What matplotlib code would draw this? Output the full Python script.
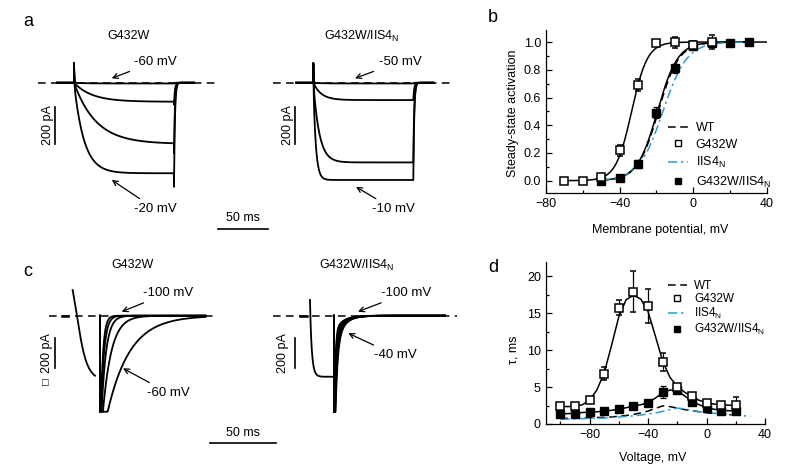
import numpy as np
import matplotlib
matplotlib.use('Agg')
import matplotlib.pyplot as plt
from matplotlib.lines import Line2D
from matplotlib.ticker import MultipleLocator

plt.rcParams['font.family'] = ['Liberation Sans', 'DejaVu Sans']
plt.rcParams['mathtext.fontset'] = 'custom'
plt.rcParams['mathtext.rm'] = 'Liberation Sans'
plt.rcParams['axes.linewidth'] = 0.9

SUB = 'IIS4$_\\mathregular{N}$'
LBL_WT, LBL_G, LBL_I, LBL_GI = 'WT', 'G432W', SUB, 'G432W/' + SUB

# ---------------- panel a: activation current traces ----------------
a_left_amp = [-4, -102, -328, -485]       # pA, steady-state current
a_left_tau = [10, 18, 22, 10]             # ms
a_right_amp = [-4, -93, -427, -521]
a_right_tau = [8, 8, 6, 2.5]
a_cap_spike = 105                          # pA, capacitive transient
a_tail_scale = [1.15, 1.0]
a_tail_tau = 0.9

# ---------------- panel c: tail current traces ----------------
c_left_pre = dict(start=-20.7, dur=16.9, amp=-430, tau=4.5, power=3, spike=171, spike_tau=3.0)
c_right_pre = dict(start=-18.2, dur=17.4, amp=-407, tau=1.5, power=1, spike=105, spike_tau=0.8)
c_left_tail_tau = [1.8, 2.4, 3.5, 6.5, 17.0]
c_left_tail_slow = [0, 0, 0, 0, 0]
c_right_tail_tau = [0.8, 0.9, 1.0, 1.1, 1.2, 1.4, 1.6]
c_right_tail_slow = [110, 130, 150, 170, 190, 210, 230]
c_tail_amp = 900
c_tail_slow_tau = 6.0
c_clip = -640

# ---------------- panel b: steady-state activation ----------------
vb_open = [-70, -60, -50, -40, -30, -20, -10, 0, 10]
act_open = [0.0, 0.0, 0.03, 0.22, 0.69, 0.99, 1.0, 0.98, 1.0]
err_open = [0.01, 0.01, 0.02, 0.04, 0.04, 0.01, 0.04, 0.03, 0.05]
vb_fill = [-50, -40, -30, -20, -10, 0, 10, 20, 30]
act_fill = [0.0, 0.02, 0.12, 0.49, 0.81, 0.97, 0.99, 0.99, 1.0]
err_fill = [0.01, 0.01, 0.03, 0.04, 0.03, 0.02, 0.02, 0.01, 0.01]
fit_names = ['G432W', 'G432W/IIS4N', 'WT', 'IIS4N']
fit_vhalf = [-33.5, -19.5, -19.0, -16.5]
fit_slope = [4.3, 5.5, 5.6, 6.5]
fit_vmin = [-70, -50, -50, -50]
fit_vmax = [40, 30, 30, 30]

# ---------------- panel d: time constants ----------------
vd = [-100, -90, -80, -70, -60, -50, -40, -30, -20, -10, 0, 10, 20]
tau_open = [2.5, 2.4, 3.2, 6.8, 15.7, 17.9, 16.0, 8.4, 5.0, 3.8, 2.9, 2.6, 2.6]
tau_open_err = [0.3, 0.3, 0.3, 0.9, 1.0, 2.8, 2.3, 1.2, 0.4, 0.4, 0.4, 0.3, 1.0]
tau_fill = [1.4, 1.4, 1.6, 1.7, 2.0, 2.5, 2.8, 4.3, 4.6, 3.0, 2.2, 1.8, 1.8]
tau_fill_err = [0.2, 0.2, 0.2, 0.2, 0.2, 0.2, 0.3, 0.8, 0.3, 0.3, 0.2, 0.2, 0.2]
vcurve = [-100, -95, -90, -85, -80, -75, -70, -65, -60, -55, -50, -45, -40,
          -35, -30, -25, -20, -15, -10, -5, 0, 5, 10, 15, 20]
curve_g = [2.4, 2.35, 2.4, 2.6, 3.2, 4.6, 6.9, 10.6, 14.5, 16.8, 17.4, 16.9, 15.2,
           11.9, 8.5, 6.3, 5.1, 4.3, 3.7, 3.2, 2.9, 2.7, 2.6, 2.55, 2.5]
curve_gi = [1.4, 1.4, 1.45, 1.55, 1.6, 1.65, 1.75, 1.85, 2.0, 2.2, 2.45, 2.6, 2.9,
            3.5, 4.2, 4.6, 4.5, 3.8, 3.1, 2.6, 2.25, 2.0, 1.85, 1.8, 1.75]
curve_wt = [0.75, 0.77, 0.8, 0.82, 0.85, 0.88, 0.9, 0.95, 1.05, 1.15, 1.3, 1.5, 1.75,
            2.1, 2.45, 2.35, 2.15, 1.95, 1.8, 1.65, 1.5, 1.42, 1.35, 1.28, 1.2]
vcurve_i = vcurve + [25, 30]
curve_i = [0.65, 0.67, 0.7, 0.72, 0.75, 0.78, 0.8, 0.87, 0.95, 1.02, 1.1, 1.22, 1.35,
           1.5, 1.7, 1.95, 2.15, 2.05, 1.85, 1.68, 1.52, 1.45, 1.38, 1.3, 1.22, 1.12, 1.05]

BLUE = '#2f9bcc'
W, H = 800, 475
fig = plt.figure(figsize=(8, 4.75), dpi=100)


def trace_axes(l, t, r, b, x0, y0, sx, sy):
    ax = fig.add_axes([l / W, 1 - b / H, (r - l) / W, (b - t) / H])
    ax.set_xlim((l - x0) / sx, (r - x0) / sx)
    ax.set_ylim(-(b - y0) / sy, (y0 - t) / sy)
    ax.set_axis_off()
    return ax


def baseline(ax, t0, t1):
    ax.plot([t0, t1], [0, 0], color='black', lw=1.1, dashes=(5, 3.5), clip_on=False)


def arrow(ax, text, tip, tpos):
    ax.annotate(text, xy=tip, xytext=tpos, ha='center', va='center', fontsize=9.5,
                arrowprops=dict(arrowstyle='->', lw=0.9, color='black', shrinkA=2, shrinkB=0,
                                mutation_scale=9), annotation_clip=False)


def vbar(ax, x, y0, y1, label, lx):
    ax.plot([x, x], [y0, y1], color='black', lw=1.2, clip_on=False)
    ax.text(lx, (y0 + y1) / 2, label, rotation=90, ha='center', va='center', fontsize=9)


kw = dict(color='black', lw=1.3, clip_on=False, solid_joinstyle='round')

# ---- a ----
SXA, SYA = 1.0, 0.1867
for side, (amps, taus) in enumerate([(a_left_amp, a_left_tau), (a_right_amp, a_right_tau)]):
    if side == 0:
        ax = trace_axes(30, 30, 232, 240, 74, 82.7, SXA, SYA)
    else:
        ax = trace_axes(268, 30, 462, 240, 313.3, 82.7, SXA, SYA)
    for amp, tau in zip(amps, taus):
        t_on = np.concatenate([np.linspace(0, 1.5, 60), np.linspace(1.5, 100, 400)[1:]])
        i_on = amp * (1 - np.exp(-t_on / tau)) + a_cap_spike * np.exp(-t_on / 0.3)
        t_off = 100 + np.linspace(0, 20, 200)
        i_off = amp * a_tail_scale[side] * np.exp(-(t_off - 100) / a_tail_tau)
        t = np.concatenate([[-17, 0], t_on, t_off])
        i = np.concatenate([[0, 0], i_on, i_off])
        ax.plot(t, i, **kw)
    if side == 0:
        baseline(ax, -36, 144)
        ax.text(54, 250, LBL_G, ha='center', va='center', fontsize=9)
        vbar(ax, -19, -128.5, -328.5, '200 pA', -26)
        arrow(ax, '-60 mV', (37.7, 23.6), (81, 112.5))
        arrow(ax, '-20 mV', (37.7, -521), (81, -676))
        ax.plot([144, 194], [-783.6, -783.6], color='black', lw=1.2, clip_on=False)
        ax.text(169, -723, '50 ms', ha='center', va='center', fontsize=9)
    else:
        baseline(ax, -40.6, 139.7)
        ax.text(48.7, 250, LBL_GI, ha='center', va='center', fontsize=9)
        vbar(ax, -18.3, -128.5, -328.5, '200 pA', -25.3)
        arrow(ax, '-50 mV', (41.7, 23.6), (86.7, 112.5))
        arrow(ax, '-10 mV', (42.7, -558), (79.7, -676))

# ---- c ----
SXC, SYC = 1.32, 0.15
for side in range(2):
    if side == 0:
        ax = trace_axes(30, 255, 232, 420, 100, 315.7, SXC, SYC)
        pre, taus, slows, tend, seg = c_left_pre, c_left_tail_tau, c_left_tail_slow, 80, (-28.8, -24.2)
    else:
        ax = trace_axes(268, 255, 462, 420, 334, 315.7, SXC, SYC)
        pre, taus, slows, tend, seg = c_right_pre, c_right_tail_tau, c_right_tail_slow, 84, (-25.8, -20.5)
    ax.plot(seg, [0, 0], color='black', lw=1.8, clip_on=False)
    tp = np.linspace(0, pre['dur'], 300)
    ip = pre['amp'] * (1 - np.exp(-tp / pre['tau'])) ** pre['power'] + pre['spike'] * np.exp(-tp / pre['spike_tau'])
    ax.plot(pre['start'] + tp, ip, **kw)
    for tau, slow in zip(taus, slows):
        tt = np.concatenate([np.linspace(0, 3, 120), np.linspace(3, tend, 400)[1:]])
        it = -(c_tail_amp * np.exp(-tt / tau) + slow * np.exp(-tt / c_tail_slow_tau))
        it = np.maximum(it, c_clip)
        ax.plot(np.concatenate([[0], tt]), np.concatenate([[0], it]), **kw)
    if side == 0:
        baseline(ax, -38.6, 88.6)
        ax.text(25, 338, LBL_G, ha='center', va='center', fontsize=9)
        vbar(ax, -34.1, -150.7, -350.7, '200 pA', -40)
        arrow(ax, '-100 mV', (16.4, 26.7), (51.5, 151))
        arrow(ax, '-60 mV', (17.4, -350.7), (51.5, -513))
        ax.plot([83.3, 133.3], [-846.7, -846.7], color='black', lw=1.2, clip_on=False)
        ax.text(108.3, -784, '50 ms', ha='center', va='center', fontsize=9)
    else:
        baseline(ax, -46.2, 93.2)
        ax.text(17.4, 338, LBL_GI, ha='center', va='center', fontsize=9)
        vbar(ax, -29.5, -150.7, -350.7, '200 pA', -38.6)
        arrow(ax, '-100 mV', (18.2, 26.7), (55, 151))
        arrow(ax, '-40 mV', (10.8, -117), (46.2, -262))

fig.text(45 / W, 1 - 383 / H, '\u25a1', ha='center', va='center', fontsize=8)


def style_axis(ax):
    for s in ['top', 'right']:
        ax.spines[s].set_visible(False)
    ax.tick_params(which='both', direction='in', labelsize=9, pad=3.5, width=0.9)
    ax.tick_params(which='major', length=4)
    ax.tick_params(which='minor', length=2.5)


# ---- b ----
axb = fig.add_axes([546 / W, 1 - 193 / H, 221 / W, 163 / H])
style_axis(axb)
axb.set_xlim(-80, 40)
axb.set_ylim(-0.089, 1.087)
axb.xaxis.set_major_locator(MultipleLocator(40))
axb.xaxis.set_minor_locator(MultipleLocator(20))
axb.yaxis.set_major_locator(MultipleLocator(0.2))
axb.yaxis.set_minor_locator(MultipleLocator(0.1))
axb.yaxis.set_major_formatter(plt.FuncFormatter(lambda v, p: f'{v:.1f}'))
fit_style = {'G432W': dict(color='black', lw=1.1, ls='-'),
             'G432W/IIS4N': dict(color='black', lw=1.1, ls='-'),
             'WT': dict(color='black', lw=1.1, dashes=(5, 3)),
             'IIS4N': dict(color=BLUE, lw=1.1, dashes=(6, 2.5, 1.5, 2.5))}
for name, vh, k, v0, v1 in zip(fit_names, fit_vhalf, fit_slope, fit_vmin, fit_vmax):
    v = np.linspace(v0, v1, 300)
    axb.plot(v, 1 / (1 + np.exp((vh - v) / k)), zorder=2, **fit_style[name])
axb.errorbar(vb_fill, act_fill, yerr=err_fill, fmt='s', ms=6, mfc='black', mec='black',
             ecolor='black', elinewidth=0.9, capsize=2.5, capthick=0.9, zorder=3)
axb.errorbar(vb_open, act_open, yerr=err_open, fmt='s', ms=6, mfc='white', mec='black', mew=1.1,
             ecolor='black', elinewidth=0.9, capsize=2.5, capthick=0.9, zorder=4)
axb.set_xlabel('Membrane potential, mV', fontsize=9)
axb.set_ylabel('Steady-state activation', fontsize=9)
axb.xaxis.set_label_coords(0.516, -0.19)
axb.yaxis.set_label_coords(-0.12, 0.49)


def legend_handles():
    return [Line2D([], [], color='black', lw=1.1, dashes=(5, 3)),
            Line2D([], [], ls='none', marker='s', ms=4, mfc='white', mec='black', mew=1.0),
            Line2D([], [], color=BLUE, lw=1.1, dashes=(6, 2.5, 1.5, 2.5)),
            Line2D([], [], ls='none', marker='s', ms=4.5, mfc='black', mec='black')]


axb.legend(legend_handles(), [LBL_WT, LBL_G, LBL_I, LBL_GI], loc='upper left',
           bbox_to_anchor=(668 / W, 1 - 122 / H), bbox_transform=fig.transFigure,
           frameon=False, fontsize=9, handlelength=1.6, handletextpad=0.6,
           labelspacing=0.36, borderpad=0, borderaxespad=0)

# ---- d ----
axd = fig.add_axes([545.7 / W, 1 - 424 / H, 219.3 / W, 162 / H])
style_axis(axd)
axd.set_xlim(-110, 40)
axd.set_ylim(0, 21.9)
axd.xaxis.set_major_locator(MultipleLocator(40))
axd.xaxis.set_minor_locator(MultipleLocator(20))
axd.yaxis.set_major_locator(MultipleLocator(5))
axd.yaxis.set_minor_locator(MultipleLocator(2.5))
axd.plot(vcurve, curve_wt, color='black', lw=1.1, dashes=(5, 3), zorder=2)
axd.plot(vcurve_i, curve_i, color=BLUE, lw=1.1, dashes=(6, 2.5, 1.5, 2.5), zorder=2)
axd.plot(vcurve, curve_gi, color='black', lw=1.1, zorder=2)
axd.plot(vcurve, curve_g, color='black', lw=1.1, zorder=2)
axd.errorbar(vd, tau_fill, yerr=tau_fill_err, fmt='s', ms=6, mfc='black', mec='black',
             ecolor='black', elinewidth=0.9, capsize=2.5, capthick=0.9, zorder=3)
axd.errorbar(vd, tau_open, yerr=tau_open_err, fmt='s', ms=6, mfc='white', mec='black', mew=1.1,
             ecolor='black', elinewidth=0.9, capsize=2.5, capthick=0.9, zorder=4)
axd.set_xlabel('Voltage, mV', fontsize=9)
axd.set_ylabel('\u03c4, ms', fontsize=9)
axd.xaxis.set_label_coords(0.489, -0.17)
axd.yaxis.set_label_coords(-0.12, 0.457)
axd.legend(legend_handles(), [LBL_WT, LBL_G, LBL_I, LBL_GI], loc='upper left',
           bbox_to_anchor=(668 / W, 1 - 280 / H), bbox_transform=fig.transFigure,
           frameon=False, fontsize=8.5, handlelength=1.6, handletextpad=0.6,
           labelspacing=0.08, borderpad=0, borderaxespad=0)

for lab, x, y in [('a', 28, 22), ('b', 493, 17), ('c', 28, 272), ('d', 493, 267)]:
    fig.text(x / W, 1 - y / H, lab, ha='center', va='center', fontsize=13)

fig.savefig('out.png', dpi=100)
